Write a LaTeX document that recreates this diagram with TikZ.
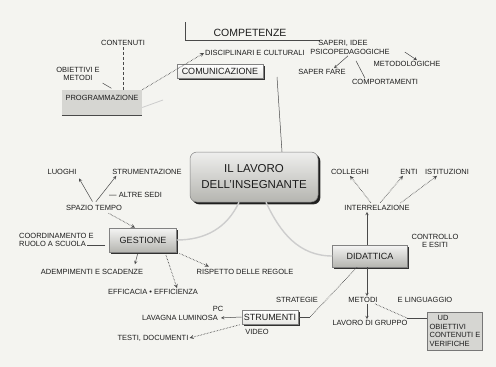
\documentclass[tikz,border=0pt]{standalone}
\usepackage{fontspec}
\setmainfont{Liberation Sans}
\usepackage{tikz}
\usetikzlibrary{positioning,shadows,calc}

\definecolor{ink}     {HTML}{1C1C1C}
\definecolor{paper}   {HTML}{F4F4F0}
\definecolor{boxgray} {HTML}{D6D6D2}
\definecolor{wash}    {HTML}{B5B5B0}
\colorlet{faintline}{ink!22}
\colorlet{boxlight}{paper!55!boxgray}

\tikzset{
  >=stealth,
  % --- nodes
  lbl/.style     = {font=\fontsize{7.5}{8.5}\selectfont, text=ink, inner sep=1pt, align=center},
  title/.style   = {lbl, font=\fontsize{10.5}{12}\selectfont},
  cbox/.style    = {draw=ink!55, line width=0.5pt, top color=white!75!boxgray, bottom color=wash,
                    font=\fontsize{9}{10}\selectfont, text=ink, inner sep=2pt,
                    drop shadow={shadow xshift=1.8pt, shadow yshift=-1.8pt, fill=ink, opacity=0.9}},
  lightbox/.style= {cbox, top color=white, bottom color=boxlight},
  core/.style    = {cbox, rounded corners=7pt, align=center, top color=white!60!boxgray, bottom color=wash,
                    font=\fontsize{11.5}{16}\selectfont,
                    drop shadow={shadow xshift=2.4pt, shadow yshift=-2.4pt, fill=ink, opacity=0.9}},
  flat/.style    = {fill=boxgray, text=ink, font=\fontsize{7.5}{8.5}\selectfont},
  % --- edges
  ln/.style      = {draw=ink!80, line width=0.5pt},
  arr/.style     = {ln, -stealth},
  dts/.style     = {ln, densely dotted, line width=0.8pt},
  darr/.style    = {dts, -stealth},
  faint/.style   = {draw=faintline, line width=1.4pt},
}

\begin{document}
\begin{tikzpicture}[x=1pt,y=-1pt]
  \fill[paper] (0,0) rectangle (496,367);
  \useasboundingbox (0,0) rectangle (496,367);

  % competenze
  \node[title] (comp) at (250,33) {COMPETENZE};
  \coordinate (fr1) at (185,22);
  \coordinate (fr2) at (320,40);
  \draw[ln, line width=0.8pt] (fr1) |- (fr2);
  \node[lbl, anchor=west] (disc) at (204,53) {DISCIPLINARI E CULTURALI};
  \node[lightbox, minimum width=86pt, minimum height=14pt] (comun) at (220,71) {COMUNICAZIONE};

  \node[lbl] (saperi) at (343,43) {SAPERI, IDEE};
  \node[lbl] (psico)  at (350,52) {PSICOPEDAGOGICHE};
  \node[lbl] (metod)  at (407,64) {METODOLOGICHE};
  \node[lbl] (sfare)  at (322,72) {SAPER FARE};
  \node[lbl] (compor) at (385,82) {COMPORTAMENTI};
  \draw[arr] ([xshift=14pt]psico.east) -- ([xshift=10pt]metod.north);
  \draw[arr] ([xshift=-2pt]psico.south) -- ([xshift=12pt]sfare.north);
  \draw[ln] ([xshift=6pt,yshift=-5pt]psico.south) -- ([xshift=-20pt]compor.north);

  % programmazione
  \node[lbl] (cont)  at (123,43) {CONTENUTI};
  \node[lbl] (obiet) at (78,74) {OBIETTIVI E\\METODI};
  \node[flat, minimum width=80pt, text height=7pt, text depth=12pt, inner sep=3pt] (prog) at (102,102.5) {PROGRAMMAZIONE};
  \draw[ln] (prog.south west) -- (prog.south east);
  \draw[ln, densely dashed] (cont.south) -- (cont.south |- prog.north);
  \draw[ln, shorten <=2pt, shorten >=3pt] (obiet.south east) -- ([xshift=12pt]prog.north);
  \draw[darr] (prog.north east) -- (disc.west);
  \coordinate (pfade) at (163,100);
  \draw[faint, line width=0.8pt] ([yshift=-5pt]prog.east) -- (pfade);

  % centro
  \node[core, minimum width=128pt, minimum height=50pt] (lavoro) at (254,177) {IL LAVORO\\DELL'INSEGNANTE};
  \coordinate (ctop) at (277,77);
  \draw[ln] (ctop) -- ([xshift=28pt]lavoro.north);

  % gestione
  \node[lbl] (luoghi) at (62,172) {LUOGHI};
  \node[lbl] (strum)  at (147,172) {STRUMENTAZIONE};
  \node[lbl] (spazio) at (94,208) {SPAZIO TEMPO};
  \node[lbl, anchor=west] (sedi) at (108,195) {— ALTRE SEDI};
  \draw[arr, shorten <=3pt, shorten >=3pt] (spazio.north) -- (luoghi.south east);
  \draw[arr, shorten <=3pt] (spazio.north) -- ([xshift=5pt]strum.south west);

  \node[cbox, minimum width=67pt, minimum height=24pt] (gest) at (143,240) {GESTIONE};
  \draw[darr, shorten <=3pt] ([xshift=12pt]spazio.south) -- ([xshift=-8pt]gest.north);
  \node[lbl, anchor=west, align=left] (coll) at (18,240) {COORDINAMENTO E\\RUOLO A SCUOLA};
  \draw[ln, shorten <=4pt] ([yshift=-5pt]gest.west) -- ([yshift=-5pt,xshift=-8pt]coll.east);

  \node[lbl] (adem)   at (92,272)  {ADEMPIMENTI E SCADENZE};
  \node[lbl] (effic)  at (153,292) {EFFICACIA • EFFICIENZA};
  \node[lbl] (rispet) at (245,272) {RISPETTO DELLE REGOLE};
  \draw[arr, shorten <=2pt, shorten >=4pt] ([xshift=-5pt]gest.south) -- ([xshift=42pt]adem.north);
  \draw[darr, shorten <=3pt] ([xshift=22pt]gest.south) -- ([xshift=24pt]effic.north);
  \draw[darr, shorten <=3pt, shorten >=4pt] (gest.south east) -- ([xshift=17pt]rispet.north west);

  % didattica
  \node[cbox, minimum width=75pt, minimum height=22pt] (didat) at (370,256) {DIDATTICA};
  \draw[faint] ([xshift=-15pt]lavoro.south) to[out=-115, in=0] (gest.east);
  \draw[faint] ([xshift=12pt]lavoro.south) to[out=-65, in=180] (didat.west);

  \node[lbl] (inter)  at (377,208) {INTERRELAZIONE};
  \node[lbl] (colleg) at (350,172) {COLLEGHI};
  \node[lbl] (enti)   at (409,172) {ENTI};
  \node[lbl] (istit)  at (447,172) {ISTITUZIONI};
  \draw[darr, shorten <=2pt] ([xshift=-5pt]inter.north) -- (colleg.south);
  \draw[darr, shorten <=2pt] ([xshift=2pt]inter.north) -- ([xshift=-6pt]enti.south);
  \draw[darr, shorten <=2pt] ([xshift=22pt]inter.north) -- ([xshift=-10pt]istit.south);
  \draw[arr] ([xshift=-3pt]didat.north) -- ([xshift=-10pt]inter.south);
  \node[lbl] (contr)  at (435,241) {CONTROLLO\\E ESITI};

  \node[lbl] (strat)  at (297,300) {STRATEGIE};
  \node[lbl] (metodi) at (363,300) {METODI};
  \node[lbl] (lingu)  at (425,300) {E LINGUAGGIO};
  \node[lbl] (grup)   at (370,323) {LAVORO DI GRUPPO};
  \draw[arr] ([xshift=-3pt]didat.south) -- ([xshift=4pt]metodi.north);
  \draw[arr] ([xshift=4pt]metodi.south) -- ([xshift=-3pt]grup.north);
  \node[flat, draw=ink!60, align=left, minimum width=54pt, minimum height=38pt, inner sep=2pt] (ud) at (455,331)
    {\hspace*{8pt}UD\\OBIETTIVI\\CONTENUTI E\\VERIFICHE};
  \coordinate (udk) at (407,318);
  \draw[dts] ([xshift=12pt]metodi.south) -- (udk);
  \draw[ln] (udk) -- (ud.west |- udk);

  % strumenti
  \node[lightbox, minimum width=56pt, minimum height=14pt] (strumenti) at (270,317) {STRUMENTI};
  \node[lbl] (pc)      at (218,309) {PC};
  \node[lbl] (lavagna) at (180,318) {LAVAGNA LUMINOSA};
  \node[lbl] (testi)   at (153,338) {TESTI, DOCUMENTI};
  \node[lbl] (video)   at (257,332) {VIDEO};
  \draw[arr, shorten >=2pt] (strumenti.west) -- (lavagna.east);
  \draw[darr, shorten <=2pt] (strumenti.south west) -- (testi.east);
  \coordinate (sk) at (310,317);
  \draw[dts] ([xshift=-13pt]didat.south) -- (sk);
  \draw[ln] (sk) -- (strumenti.east);
\end{tikzpicture}
\end{document}
